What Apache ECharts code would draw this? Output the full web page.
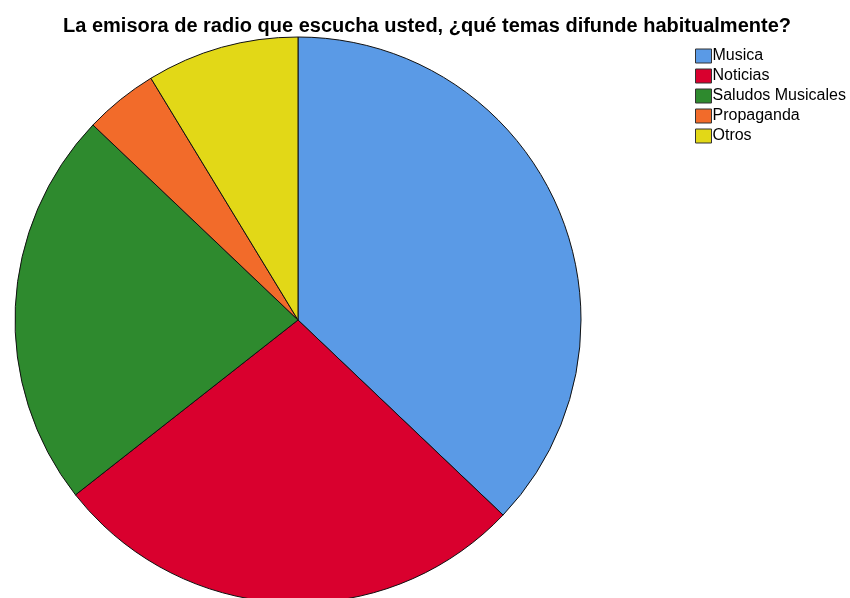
<!DOCTYPE html>
<html>
<head>
<meta charset="utf-8">
<script src="https://cdn.jsdelivr.net/npm/echarts@6/dist/echarts.min.js"></script>
<style>
html,body{margin:0;padding:0;background:#fff;}
#chart{width:850px;height:598px;}
</style>
</head>
<body>
<div id="chart"></div>
<script>
const titleText = "La emisora de radio que escucha usted, ¿qué temas difunde habitualmente?";
const categories = ["Musica", "Noticias", "Saludos Musicales", "Propaganda", "Otros"];
const values = [37.1, 27.3, 22.7, 4.2, 8.7];
const colors = ["#5a9ae6", "#d9002e", "#2e8a2e", "#f26b2a", "#e2d817"];

const chart = echarts.init(document.getElementById('chart'), null, {renderer: 'canvas'});
chart.setOption({
  backgroundColor: '#ffffff',
  animation: false,
  title: {
    text: titleText,
    left: 422,
    textAlign: 'center',
    top: 11,
    textStyle: {fontFamily: 'Liberation Sans, Arial, sans-serif', fontSize: 20, fontWeight: 'bold', color: '#000'}
  },
  legend: {
    orient: 'vertical',
    left: 690,
    top: 43,
    itemWidth: 16,
    itemHeight: 14,
    itemGap: 4,
    icon: 'rect',
    data: categories,
    itemStyle: {borderColor: '#333', borderWidth: 1},
    textStyle: {fontFamily: 'Liberation Sans, Arial, sans-serif', fontSize: 16, color: '#000', padding: [0,0,0,-4]}
  },
  series: [{
    type: 'pie',
    center: [298, 320],
    radius: 283,
    startAngle: 90,
    clockwise: true,
    label: {show: false},
    labelLine: {show: false},
    emphasis: {disabled: true},
    itemStyle: {borderColor: '#111', borderWidth: 1},
    data: categories.map((c, i) => ({name: c, value: values[i], itemStyle: {color: colors[i]}}))
  }]
});
</script>
</body>
</html>
